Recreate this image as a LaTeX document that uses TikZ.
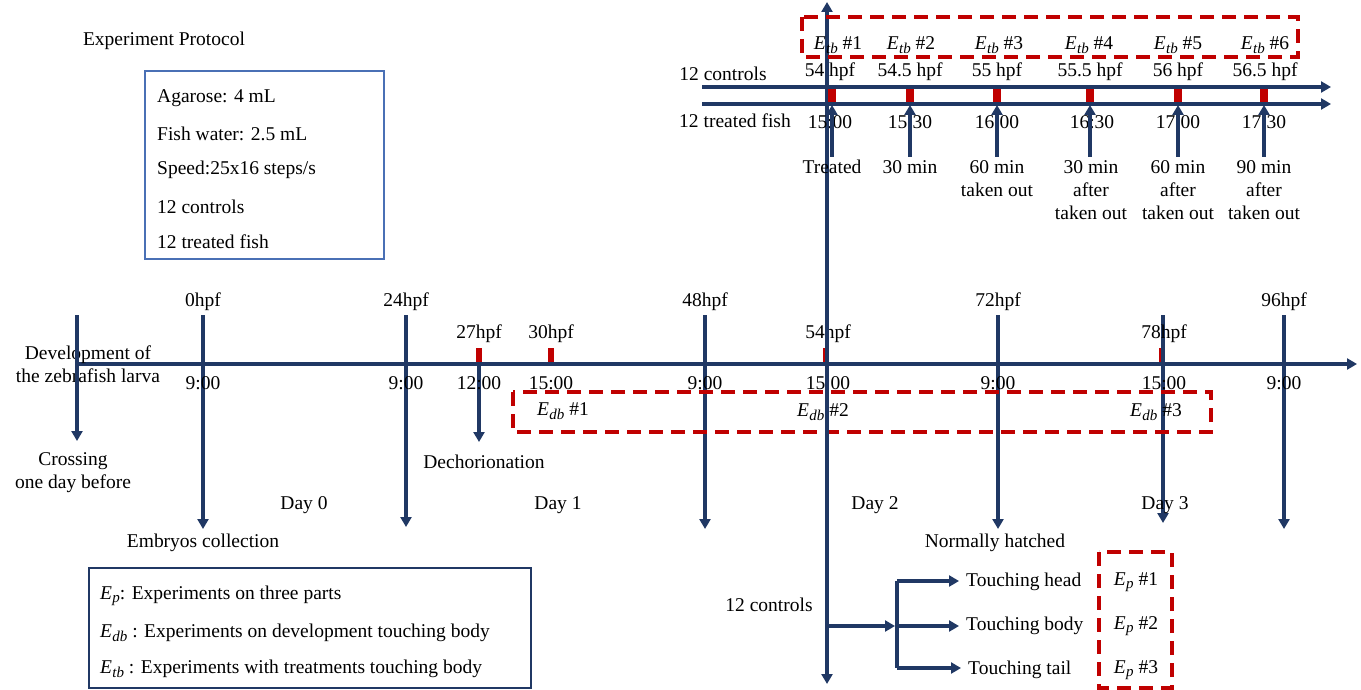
\documentclass[tikz,border=0pt]{standalone}
\usepackage{fontspec}
\setmainfont{Liberation Serif}
\usetikzlibrary{arrows.meta}
\definecolor{navy}{HTML}{203864}
\definecolor{dred}{HTML}{C00000}
\definecolor{boxblue}{HTML}{4A70B5}
\newcommand\Esub[1]{\textit{E}\kern0.3pt\raisebox{-0.4ex}{\fontsize{15}{15}\selectfont\textit{#1}}}
\begin{document}
\begin{tikzpicture}[x=1pt,y=-1pt,
  every node/.style={font=\fontsize{19.5}{23}\selectfont, inner sep=0pt, align=center},
  tl/.style={draw=navy, line width=3.2pt, -{Triangle[length=10pt,width=11pt]}},
  tlboth/.style={draw=navy, line width=3.2pt, {Triangle[length=10pt,width=11pt]}-{Triangle[length=10pt,width=11pt]}},
  redtick/.style={fill=dred},
  dbox/.style={draw=dred, line width=3.4pt, dash pattern=on 14pt off 8pt},
  lt/.style={anchor=west},
]
\useasboundingbox (0,0) rectangle (1361,690);

% ---------- protocol ----------
\node (title) at (164,41) {Experiment Protocol};
\draw[boxblue, line width=1.6pt] (145,71) rectangle (384,259);
\node[lt] (p1) at (157,98) {Agarose: 4 mL};
\node[lt] (p2) at (157,134) {Fish water: 2.5 mL};
\node[lt] (p3) at (157,170) {Speed:25x16 steps/s};
\node[lt] (p4) at (157,207) {12 controls};
\node[lt] (p5) at (157,242) {12 treated fish};

% ---------- legend ----------
\draw[navy, line width=1.6pt] (89,568) rectangle (531,688);
\node[lt] (l1) at (100,596) {\Esub{p}: Experiments on three parts};
\node[lt] (l2) at (100,633) {\Esub{db} : Experiments on development touching body};
\node[lt] (l3) at (100,669) {\Esub{tb} : Experiments with treatments touching body};

% ---------- main timeline ----------
\fill[redtick] (476,348) rectangle (482,364);
\fill[redtick] (548,348) rectangle (554,364);
\fill[redtick] (823,348) rectangle (829,364);
\fill[redtick] (1159,348) rectangle (1165,364);
\coordinate (ms) at (77,364);
\coordinate (me) at (1357,364);
\draw[tl] (ms) -- (me);

\node (dev) at (88,364) {Development of\\the zebrafish larva};

\coordinate (cr1) at (77,315); \coordinate (cr2) at (77,441);
\draw[tl] (cr1) -- (cr2);
\node (cross) at (73,473) {Crossing\\one day before};

\foreach \n/\x/\b in {a/203/529, b/406/527, c/705/529, d/998/529, e/1163/523, f/1284/529}{
  \coordinate (v\n1) at (\x,315); \coordinate (v\n2) at (\x,\b);
  \draw[tl] (v\n1) -- (v\n2);
}
\coordinate (dc1) at (479,364); \coordinate (dc2) at (479,442);
\draw[tl] (dc1) -- (dc2);

\node (h0) at (203,302) {0hpf};
\node (h24) at (406,302) {24hpf};
\node (h48) at (705,302) {48hpf};
\node (h72) at (998,302) {72hpf};
\node (h96) at (1284,302) {96hpf};
\node (h27) at (479,334) {27hpf};
\node (h30) at (551,334) {30hpf};
\node (h54) at (828,334) {54hpf};
\node (h78) at (1164,334) {78hpf};

\node (t0) at (203,383) {9:00};
\node (t24) at (406,383) {9:00};
\node (t27) at (479,383) {12:00};
\node (t30) at (551,383) {15:00};
\node (t48) at (705,383) {9:00};
\node (t54) at (828,383) {15:00};
\node (t72) at (998,383) {9:00};
\node (t78) at (1164,383) {15:00};
\node (t96) at (1284,383) {9:00};

\draw[dbox] (513,392) rectangle (1211,432);
\node (db1) at (563,411) {\Esub{db} \#1};
\node (db2) at (823,412) {\Esub{db} \#2};
\node (db3) at (1156,412) {\Esub{db} \#3};

\node (dech) at (484,462) {Dechorionation};
\node (day0) at (304,505) {Day 0};
\node (day1) at (558,505) {Day 1};
\node (day2) at (875,505) {Day 2};
\node (day3) at (1165,505) {Day 3};
\node (emb) at (203,543) {Embryos collection};
\node (hatch) at (995,543) {Normally hatched};

% ---------- long vertical at 54 hpf ----------
\coordinate (vt) at (827,2);
\coordinate (vb) at (827,684);
\draw[tlboth] (vt) -- (vb);

% ---------- treatment timeline ----------
\foreach \x in {832,910,997,1090,1178,1264}{
  \fill[redtick] (\x-4,87) rectangle (\x+4,104);
}
\coordinate (ta1) at (702,87); \coordinate (tb1) at (1331,87);
\coordinate (ta2) at (702,104); \coordinate (tb2) at (1331,104);
\draw[tl] (ta1) -- (tb1);
\draw[tl] (ta2) -- (tb2);
\node (ctl) at (723,74) {12 controls};
\node (trt) at (735,121) {12 treated fish};

\draw[dbox] (802,17) rectangle (1298,57);
\node (e1) at (838,45) {\Esub{tb} \#1};
\node (e2) at (911,45) {\Esub{tb} \#2};
\node (e3) at (999,45) {\Esub{tb} \#3};
\node (e4) at (1089,45) {\Esub{tb} \#4};
\node (e5) at (1178,45) {\Esub{tb} \#5};
\node (e6) at (1265,45) {\Esub{tb} \#6};

\node (f1) at (830,72) {54 hpf};
\node (f2) at (910,72) {54.5 hpf};
\node (f3) at (997,72) {55 hpf};
\node (f4) at (1090,72) {55.5 hpf};
\node (f5) at (1178,72) {56 hpf};
\node (f6) at (1265,72) {56.5 hpf};

\node (s1) at (830,122) {15:00};
\node (s2) at (910,122) {15:30};
\node (s3) at (997,122) {16:00};
\node (s4) at (1092,122) {16:30};
\node (s5) at (1178,122) {17:00};
\node (s6) at (1264,122) {17:30};

\foreach \n/\x in {1/832,2/910,3/997,4/1090,5/1178,6/1264}{
  \coordinate (u\n a) at (\x,157); \coordinate (u\n b) at (\x,105);
  \draw[tl] (u\n a) -- (u\n b);
}
\node (r1) at (832,167) {Treated};
\node (r2) at (910,167) {30 min};
\node (r3) at (997,178.5) {60 min\\taken out};
\node (r4) at (1091,190) {30 min\\after\\taken out};
\node (r5) at (1178,190) {60 min\\after\\taken out};
\node (r6) at (1264,190) {90 min\\after\\taken out};

% ---------- three parts ----------
\node (c12) at (769,605) {12 controls};
\coordinate (br0) at (827,626);
\coordinate (brm) at (895,626);
\coordinate (brt) at (897,581);
\coordinate (brb) at (897,668);
\draw[tl] (br0) -- (brm);
\draw[navy, line width=3.2pt] (brt) -- (brb);
\node[lt] (th) at (966,582) {Touching head};
\node[lt] (tbd) at (966,626) {Touching body};
\node[lt] (tt) at (968,670) {Touching tail};
\draw[tl, shorten >=7pt] (brt) -- (th.west |- brt);
\draw[tl, shorten >=7pt] (brm) -- (tbd.west |- brm);
\draw[tl, shorten >=7pt] (brb) -- (tt.west |- brb);

\draw[dbox] (1099,552) rectangle (1172,688);
\node (ep1) at (1136,582) {\Esub{p} \#1};
\node (ep2) at (1136,626) {\Esub{p} \#2};
\node (ep3) at (1136,670) {\Esub{p} \#3};
\end{tikzpicture}
\end{document}
